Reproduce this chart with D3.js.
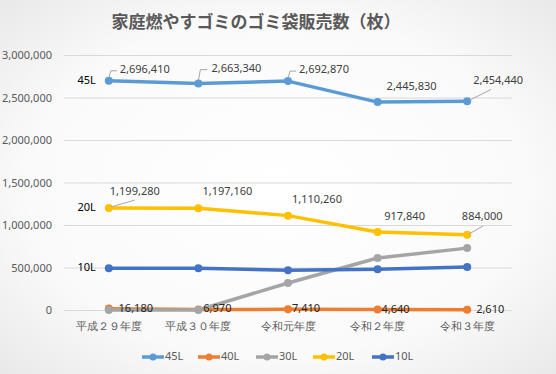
<!DOCTYPE html>
<html>
<head>
<meta charset="utf-8">
<script src="https://cdn.jsdelivr.net/npm/d3@7"></script>
<style>
  body { margin: 0; }
  svg { display: block; font-family: "Noto Sans CJK JP", "Noto Sans", sans-serif; }
</style>
</head>
<body>
<div id="chart"></div>
<script>
// data
var years = ["平成２９年度", "平成３０年度", "令和元年度", "令和２年度", "令和３年度"];
var seriesNames = ["45L", "40L", "30L", "20L", "10L"];
var v45 = [2696410, 2663340, 2692870, 2445830, 2454440];
var v40 = [16180, 6970, 7410, 4640, 2610];
var v30 = [0, 0, 318000, 612000, 728000];
var v20 = [1199280, 1197160, 1110260, 917840, 884000];
var v10 = [490000, 490000, 467000, 478000, 506000];
var yTicks = [0, 500000, 1000000, 1500000, 2000000, 2500000, 3000000];

var colors = ["#5B9BD5", "#ED7D31", "#A5A5A5", "#FFC000", "#4472C4"];
var allValues = [v45, v40, v30, v20, v10];

// label placement (offsets from the point), per series
var labelPos = {
  "45L": [[11, -11, "start"], [13, -15, "start"], [11, -11, "start"], [9, -15, "start"], [6, -20, "start"]],
  "20L": [[26, -16, "middle"], [29, -16, "middle"], [29, -16, "middle"], [27, -15, "middle"], [15, -18, "middle"]],
  "40L": [[27, 0, "middle"], [19, 0, "middle"], [18, 0, "middle"], [18, 0, "middle"], [23, 0, "middle"]]
};
// leader lines [index, path in offsets]
var leaders = {
  "45L": [[0, [[0, -3], [2, -10], [8, -10]]], [1, [[0, -3], [2, -14], [9, -14]]], [2, [[0, -3], [2, -10], [8, -10]]], [4, [[2, -1], [24, -12]]]],
  "20L": [[0, [[2, -1], [26, -8]]], [4, [[2, -1], [16, -9]]]]
};

var W = 556, H = 374;
var margin = {top: 55, right: 44, bottom: 64, left: 64};
var width = W - margin.left - margin.right,
    height = H - margin.top - margin.bottom;

var svg = d3.select("#chart").append("svg")
  .attr("width", W)
  .attr("height", H);

// soft background like the spreadsheet chart area
var defs = svg.append("defs");
var grad = defs.append("radialGradient").attr("id", "bg")
  .attr("cx", "50%").attr("cy", "50%").attr("r", "75%");
grad.append("stop").attr("offset", "0%").attr("stop-color", "#ffffff");
grad.append("stop").attr("offset", "60%").attr("stop-color", "#fafafa");
grad.append("stop").attr("offset", "100%").attr("stop-color", "#e6e6e6");
svg.append("rect").attr("width", W).attr("height", H).attr("fill", "url(#bg)");

svg.append("text")
  .attr("x", 256).attr("y", 23)
  .attr("text-anchor", "middle")
  .attr("dominant-baseline", "middle")
  .attr("font-size", 17)
  .attr("font-weight", "bold")
  .attr("fill", "#595959")
  .text("家庭燃やすゴミのゴミ袋販売数（枚）");

var g = svg.append("g")
  .attr("transform", "translate(" + margin.left + "," + margin.top + ")");

var x = d3.scaleBand().domain(years).range([0, width]);
var y = d3.scaleLinear().domain([0, 3000000]).range([height, 0]);

// gridlines
g.append("g")
  .call(d3.axisLeft(y).tickValues(yTicks).tickSize(-width).tickFormat(""))
  .call(function(a) { a.select(".domain").remove(); })
  .selectAll("line").attr("stroke", "#d9d9d9");

// y axis labels
g.append("g")
  .call(d3.axisLeft(y).tickValues(yTicks).tickSize(0).tickPadding(12).tickFormat(d3.format(",")))
  .call(function(a) { a.select(".domain").remove(); })
  .selectAll("text")
  .attr("font-size", 11)
  .attr("font-family", "\"Noto Sans\", sans-serif")
  .attr("fill", "#595959");

// x axis labels
g.append("g")
  .attr("transform", "translate(0," + height + ")")
  .call(d3.axisBottom(x).tickSize(0).tickPadding(12))
  .call(function(a) { a.select(".domain").remove(); })
  .selectAll("text")
  .attr("font-size", 11)
  .attr("fill", "#595959");

var cx = function(i) { return x(years[i]) + x.bandwidth() / 2; };
var line = d3.line()
  .x(function(d, i) { return cx(i); })
  .y(function(d) { return y(d); });

seriesNames.forEach(function(name, s) {
  var vals = allValues[s];
  g.append("path")
    .datum(vals)
    .attr("fill", "none")
    .attr("stroke", colors[s])
    .attr("stroke-width", 3.5)
    .attr("stroke-linejoin", "round")
    .attr("d", line);
  g.selectAll(".pt" + s)
    .data(vals)
    .enter().append("circle")
    .attr("cx", function(d, i) { return cx(i); })
    .attr("cy", function(d) { return y(d); })
    .attr("r", 4)
    .attr("fill", colors[s]);
});

// leader lines
Object.keys(leaders).forEach(function(name) {
  var vals = allValues[seriesNames.indexOf(name)];
  leaders[name].forEach(function(l) {
    var i = l[0], px = cx(i), py = y(vals[i]);
    g.append("path")
      .attr("d", d3.line()(l[1].map(function(p) { return [px + p[0], py + p[1]]; })))
      .attr("fill", "none")
      .attr("stroke", "#a6a6a6")
      .attr("stroke-width", 1);
  });
});

// data labels
Object.keys(labelPos).forEach(function(name) {
  var vals = allValues[seriesNames.indexOf(name)];
  vals.forEach(function(v, i) {
    var p = labelPos[name][i];
    g.append("text")
      .attr("x", cx(i) + p[0])
      .attr("y", y(v) + p[1])
      .attr("text-anchor", p[2])
      .attr("dominant-baseline", "middle")
      .attr("font-size", 11)
      .attr("font-family", "\"Noto Sans\", sans-serif")
      .attr("fill", name == "40L" ? "#262626" : "#404040")
      .text(d3.format(",")(v));
  });
});

// series name labels at the first point
[["45L", v45], ["20L", v20], ["10L", v10]].forEach(function(d) {
  g.append("text")
    .attr("x", cx(0) - 13)
    .attr("y", y(d[1][0]))
    .attr("text-anchor", "end")
    .attr("dominant-baseline", "middle")
    .attr("font-size", 11)
    .attr("font-family", "\"Noto Sans\", sans-serif")
    .attr("fill", "#000")
    .text(d[0]);
});

// legend
var legend = svg.append("g").attr("transform", "translate(142,357)");
var item = legend.selectAll("g")
  .data(seriesNames)
  .enter().append("g")
  .attr("transform", function(d, i) { return "translate(" + [0, 56, 114, 171, 230][i] + ",0)"; });
item.append("line")
  .attr("x1", 0).attr("x2", 22)
  .attr("stroke", function(d, i) { return colors[i]; })
  .attr("stroke-width", 3.5);
item.append("circle")
  .attr("cx", 11).attr("r", 3.5)
  .attr("fill", function(d, i) { return colors[i]; });
item.append("text")
  .attr("x", 23).attr("dominant-baseline", "middle")
  .attr("font-size", 11)
  .attr("font-family", "\"Noto Sans\", sans-serif")
  .attr("fill", "#595959")
  .text(function(d) { return d; });
</script>
</body>
</html>
